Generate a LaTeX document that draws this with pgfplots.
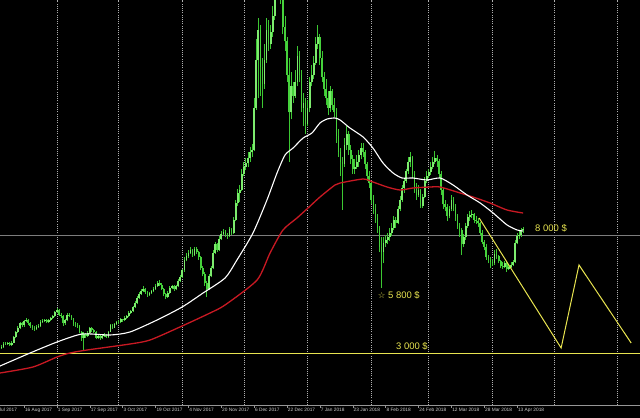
\documentclass[border=0pt]{standalone}
\usepackage{fontspec}
\setmainfont{Liberation Sans}
\newfontfamily\symfont{DejaVu Sans}
\usepackage{pgfplots}
\usepackage{pgfplotstable}
\pgfplotsset{compat=1.18}

\definecolor{candlewick}{RGB}{60,200,50}
\definecolor{candleup}{RGB}{125,235,110}
\definecolor{candledn}{RGB}{70,210,60}
\definecolor{mared}{RGB}{200,25,35}
\definecolor{ylw}{RGB}{232,228,80}
\definecolor{gridgray}{RGB}{175,175,175}
\definecolor{axisgray}{RGB}{150,150,150}
\definecolor{lvlgray}{RGB}{125,125,125}
\definecolor{ticktext}{RGB}{205,205,205}

% daily candles, x = days after 1 Sep 2017
\pgfplotstableread{
x o h l c
-28 3200 3300 3120 3250
-27 3250 3330 3190 3270
-26 3270 3450 3230 3400
-25 3400 3460 3320 3380
-24 3380 3480 3340 3420
-23 3420 3460 3280 3350
-22 3350 3490 3300 3440
-21 3440 3700 3410 3660
-20 3660 3950 3630 3880
-19 3880 4130 3850 4060
-18 4060 4330 4010 4270
-17 4270 4320 4100 4180
-16 4180 4400 4120 4350
-15 4350 4470 4300 4380
-14 4380 4420 4200 4290
-13 4290 4330 4070 4150
-12 4150 4200 3990 4060
-11 4060 4130 3940 4010
-10 4010 4170 3970 4100
-9 4100 4210 4050 4150
-8 4150 4380 4120 4320
-7 4320 4430 4270 4360
-6 4360 4460 4320 4400
-5 4400 4440 4280 4330
-4 4330 4420 4290 4380
-3 4380 4540 4340 4480
-2 4480 4620 4430 4570
-1 4570 4770 4540 4720
0 4720 4920 4680 4840
1 4840 4870 4550 4620
2 4620 4680 4480 4560
3 4560 4600 4150 4260
4 4260 4430 4200 4380
5 4380 4680 4340 4620
6 4620 4700 4520 4580
7 4580 4620 4400 4470
8 4470 4500 4150 4220
9 4220 4300 4100 4180
10 4180 4260 4080 4150
11 4150 4180 3830 3900
12 3900 3950 3500 3620
13 3620 3880 3130 3800
14 3800 3860 3650 3720
15 3720 3920 3680 3850
16 3850 4100 3800 4050
17 4050 4090 3900 3960
18 3960 4010 3830 3880
19 3880 3920 3580 3640
20 3640 3760 3600 3700
21 3700 3750 3570 3620
22 3620 3780 3580 3720
23 3720 3830 3680 3780
24 3780 3820 3630 3680
25 3680 3950 3650 3900
26 3900 4230 3870 4180
27 4180 4220 4030 4080
28 4080 4290 4050 4250
29 4250 4370 4200 4320
30 4320 4380 4240 4300
31 4300 4470 4260 4420
32 4420 4460 4320 4380
33 4380 4550 4350 4500
34 4500 4610 4460 4560
35 4560 4760 4520 4700
36 4700 4830 4650 4780
37 4780 5010 4740 4950
38 4950 5190 4900 5120
39 5120 5420 5080 5340
40 5340 5600 5300 5520
41 5520 5720 5460 5640
42 5640 5830 5590 5700
43 5700 5740 5480 5580
44 5580 5620 5380 5470
45 5470 5600 5420 5540
46 5540 5680 5490 5620
47 5620 5790 5570 5720
48 5720 5920 5680 5850
49 5850 6050 5800 5960
50 5960 6080 5850 5900
51 5900 5950 5650 5720
52 5720 5760 5400 5480
53 5480 5540 5280 5370
54 5370 5620 5330 5550
55 5550 5820 5500 5750
56 5750 5900 5700 5820
57 5820 5870 5620 5700
58 5700 5890 5650 5820
59 5820 6120 5780 6050
60 6050 6300 6000 6220
61 6220 6580 6180 6500
62 6500 7050 6450 6950
63 6950 7220 6880 7100
64 7100 7350 7030 7250
65 7250 7480 7180 7360
66 7360 7420 7080 7150
67 7150 7500 7100 7420
68 7420 7480 7200 7270
69 7270 7320 6950 7050
70 7050 7100 6500 6600
71 6600 6700 6250 6350
72 6350 6450 5850 5950
73 5950 6050 5370 5700
74 5700 6350 5650 6250
75 6250 6700 6200 6600
76 6600 7350 6550 7250
77 7250 7700 7200 7600
78 7600 7680 7300 7380
79 7380 7950 7330 7850
80 7850 8150 7800 8050
81 8050 8250 7980 8130
82 8130 8200 7900 8000
83 8000 8080 7850 7950
84 7950 8350 7900 8250
85 8250 8300 8020 8100
86 8100 8750 8050 8650
87 8650 9480 8600 9350
88 9350 9950 9250 9800
89 9800 10100 9400 9900
90 9900 10800 9850 10600
91 10600 11100 10500 10900
92 10900 11250 10750 11050
93 11050 11500 10900 11250
94 11250 11750 11100 11500
95 11500 11850 11300 11600
96 11600 13800 11550 13400
97 13400 16300 13300 15400
98 15400 17200 13800 16700
99 16700 16900 13900 15100
100 15100 15500 13400 14400
101 14400 16100 14200 15400
102 15400 17200 15300 16700
103 16700 17100 15800 16100
104 16100 16900 15900 16600
105 16600 17700 16400 17300
106 17300 19200 17100 18800
107 18800 19600 18500 19200
108 19200 19700 18400 18800
109 18800 19100 17800 18600
110 18600 18700 16500 16800
111 16800 17300 15800 16200
112 16200 16400 14500 14800
113 14800 15500 11100 13200
114 13200 14900 12900 14300
115 14300 14500 13600 13900
116 13900 15000 13800 14500
117 14500 16000 14300 15600
118 15600 15800 14500 14800
119 14800 15000 13200 13400
120 13400 14000 12600 13600
121 13600 13800 12300 12700
122 12700 13700 12600 13400
123 13400 14700 13200 14500
124 14500 15200 14300 14800
125 14800 15600 14600 15300
126 15300 16400 15200 16100
127 16100 16900 15900 16400
128 16400 16500 15200 15500
129 15500 15800 14500 14700
130 14700 14900 13900 14200
131 14200 14600 13500 13800
132 13800 14100 13100 13400
133 13400 14300 13200 14100
134 14100 14200 13300 13500
135 13500 13800 13000 13200
136 13200 13400 11900 12200
137 12200 12500 11300 11500
138 11500 11700 10500 11100
139 11100 11300 9060 11000
140 11000 12100 10900 11800
141 11800 12600 11600 12300
142 12300 12400 11400 11600
143 11600 11800 11000 11200
144 11200 11400 10600 10800
145 10800 11200 10600 10900
146 10900 11400 10800 11100
147 11100 11600 10900 11400
148 11400 11900 11200 11700
149 11700 11900 11300 11500
150 11500 11600 10800 11000
151 11000 11100 10300 10500
152 10500 10700 10000 10200
153 10200 10300 9300 9500
154 9500 9700 8900 9100
155 9100 9300 8500 8700
156 8700 8900 8100 8300
157 8300 8400 7300 7500
158 7500 7900 5750 7300
159 7300 7900 6800 7650
160 7650 8000 7500 7800
161 7800 8100 7600 7900
162 7900 8300 7750 8100
163 8100 8500 7950 8300
164 8300 8800 8200 8650
165 8650 8750 8300 8500
166 8500 9250 8450 9100
167 9100 9650 9000 9500
168 9500 10100 9400 10000
169 10000 10400 9800 10300
170 10300 10800 10200 10700
171 10700 11300 10600 11100
172 11100 11500 10900 11300
173 11300 11350 10400 10600
174 10600 10700 9800 10050
175 10050 10200 9500 9700
176 9700 10100 9600 9900
177 9900 9950 9150 9250
178 9250 9750 9150 9600
179 9600 10450 9550 10300
180 10300 10700 10200 10500
181 10500 10800 10400 10650
182 10650 11100 10550 10900
183 10900 11300 10800 11100
184 11100 11550 11000 11250
185 11250 11400 10900 11150
186 11150 11200 10400 10600
187 10600 10700 9700 9900
188 9900 10000 9100 9300
189 9300 9500 9000 9200
190 9200 9300 8600 8800
191 8800 9250 8700 9100
192 9100 9700 9000 9500
193 9500 9600 9000 9200
194 9200 9300 8600 8800
195 8800 8900 8250 8400
196 8400 8500 7900 8200
197 8200 8300 7150 7600
198 7600 8050 7500 7900
199 7900 8500 7800 8400
200 8400 8900 8300 8750
201 8750 9000 8600 8850
202 8850 9050 8700 8900
203 8900 8950 8500 8650
204 8650 8800 8450 8600
205 8600 8700 8350 8500
206 8500 8550 8000 8100
207 8100 8200 7600 7700
208 7700 7800 7350 7500
209 7500 7600 6950 7050
210 7050 7150 6800 6950
211 6950 7050 6600 6850
212 6850 7000 6700 6800
213 6800 7350 6750 7200
214 7200 7400 7000 7100
215 7100 7150 6800 6900
216 6900 6950 6600 6700
217 6700 6850 6550 6650
218 6650 6900 6600 6800
219 6800 6850 6450 6550
220 6550 6750 6500 6650
221 6650 6850 6600 6750
222 6750 6950 6700 6850
223 6850 7800 6800 7650
224 7650 8100 7600 7950
225 7950 8150 7850 8000
226 8000 8300 7900 8200
227 8200 8350 8100 8250
}\candles

\begin{document}
\begin{tikzpicture}
\fill[black] (0,0) rectangle (640bp,418bp);
\begin{axis}[
  at={(0,13bp)}, anchor=south west,
  scale only axis, width=640bp, height=405bp,
  xmin=-27.75, xmax=283.8, ymin=797, ymax=17958,
  axis x line*=bottom, axis y line=none,
  x axis line style={draw=axisgray, -, line width=0.8bp},
  ytick=\empty,
  xtick={-16,0,...,224},
  xticklabels={16 Aug 2017,1 Sep 2017,17 Sep 2017,3 Oct 2017,19 Oct 2017,4 Nov 2017,20 Nov 2017,6 Dec 2017,22 Dec 2017,7 Jan 2018,23 Jan 2018,8 Feb 2018,24 Feb 2018,12 Mar 2018,28 Mar 2018,13 Apr 2018},
  xticklabel style={font=\fontsize{4.8}{5}\selectfont, text=ticktext, anchor=north west, inner xsep=0.7bp, inner ysep=0pt, yshift=-0.5bp},
  tick align=outside, major tick length=2.5bp,
  xtick style={draw=axisgray, line width=0.6bp},
  extra x ticks={0,30,61,91,122,153,181,212,242,273},
  extra x tick labels={},
  extra x tick style={grid=major, major tick length=0pt},
  major grid style={draw=gridgray, line width=0.7bp, dash pattern=on 1bp off 1.2bp},
]
% level lines
\addplot[lvlgray, line width=0.8bp, mark=none] coordinates {(-27.75,8000) (283.8,8000)};
\addplot[ylw, line width=0.85bp, mark=none] coordinates {(-27.75,3000) (283.8,3000)};

% wicks: segment from low to high
\addplot[candlewick, solid, line width=1bp, mark=none,
  quiver={u=0, v={\thisrow{h}-\thisrow{l}}}]
  table[x=x, y=l] {\candles};
% all bodies (bearish colour)
\addplot[candledn, solid, line width=1.7bp, mark=none,
  quiver={u=0, v={abs(\thisrow{o}-\thisrow{c})}}]
  table[x=x, y expr={min(\thisrow{o},\thisrow{c})}] {\candles};
% bullish bodies on top
\addplot[candleup, solid, line width=1.7bp, mark=none,
  quiver={u=0, v={\thisrow{c}-\thisrow{o}}}]
  table[x=x, y expr={\thisrow{c}>=\thisrow{o} ? \thisrow{o} : nan}] {\candles};

% slow moving average (red)
\addplot[mared, line width=1.3bp, mark=none, smooth, tension=0.4] coordinates {
(-27.75,2153) (-11.7,2407) (0,2831) (6.3,3000) (14.6,3127) (35.5,3381) (45.3,3551)
(60.9,4144) (74.5,4695) (81.8,5034) (97.4,6093) (103.7,7237) (110.0,8212)
(116.8,8720) (122.2,9144) (128.0,9610) (135.3,10119) (137.8,10203) (149.0,10373)
(153.8,10246) (160.7,10034) (167.0,9907) (173.3,9992) (181.6,10034) (186.5,10034)
(194.7,9822) (202.5,9610) (210.8,9356) (219.1,9059) (226.9,8932)
};
% fast moving average (white)
\addplot[white, line width=1.1bp, mark=none, smooth, tension=0.4] coordinates {
(-27.75,2449) (-13.1,3000) (0,3466) (12.2,3805) (25.8,3763) (35.5,3890)
(48.7,4398) (60.9,4949) (71.1,5542) (81.8,6178) (87.6,6941)
(95.4,8085) (102.2,9483) (107.1,10627) (111.0,11390) (114.9,11686) (119.8,12110)
(124.1,12322) (128.0,12746) (131.5,12915) (135.3,12958) (137.8,12873) (142.6,12534)
(149.0,12153) (153.8,11686) (158.7,11051) (163.6,10627) (168.0,10415) (173.3,10415)
(180.1,10331) (186.5,10415) (192.8,10119) (199.6,9695) (206.0,9356) (212.3,8932)
(219.1,8424) (224.0,8212) (226.9,8169)
};

% projected path (yellow)
\addplot[ylw, line width=1bp, mark=none] coordinates {
(205.5,8720) (245.4,3212) (254.1,6729) (279.5,3424)
};

\node[anchor=west, inner sep=0pt, text=ylw, font=\fontsize{9.5}{10}\selectfont] at (axis cs:232.7,8297) {8 000 \$};
\node[anchor=west, inner sep=0pt, text=ylw, font=\fontsize{9.5}{10}\selectfont] at (axis cs:161.1,5458) {5 800 \$};
\node[inner sep=0pt, text=ylw, font=\symfont\fontsize{8.5}{8.5}\selectfont] at (axis cs:158.0,5458) {☆};
\node[anchor=west, inner sep=0pt, text=ylw, font=\fontsize{9.5}{10}\selectfont] at (axis cs:165.0,3297) {3 000 \$};
\end{axis}
\node[anchor=north west, inner xsep=0.7bp, inner ysep=0pt, text=ticktext, font=\fontsize{4.8}{5}\selectfont] at (-8.7bp,10bp) {31 Jul 2017};
\pgfresetboundingbox
\useasboundingbox (0,0) rectangle (640bp,418bp);
\end{tikzpicture}
\end{document}
